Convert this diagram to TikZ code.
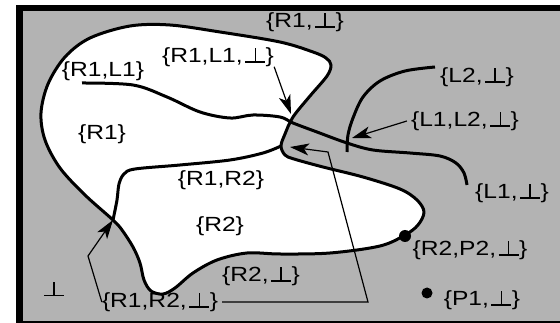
\documentclass[tikz,border=0pt]{standalone}
\usepackage{fontspec}
\setmainfont[FakeStretch=1.2]{Liberation Sans}
\usetikzlibrary{arrows.meta}

% "bottom" symbol built from two rules, so it keeps a wide foot
\newcommand\upt{\kern2.5pt\mbox{\rlap{\rule[-0.3pt]{20pt}{1.4pt}}\hspace{9.3pt}\rule[-0.3pt]{1.4pt}{14.4pt}\hspace{9.3pt}}\kern0.5pt}

\definecolor{bggray}{RGB}{179,179,179}

\begin{document}
\begin{tikzpicture}[x=1pt,y=-1pt,
  lab/.style={font=\fontsize{20.5}{24}\selectfont, inner sep=0pt},
  edge/.style={line width=3pt, line join=round},
  thinline/.style={line width=1.2pt},
  pointer/.style={-{Stealth[length=19pt,width=12pt,inset=5pt]}}]
\useasboundingbox (0,0) rectangle (560,323);

% frame and background
\fill[white] (0,0) rectangle (560,323);
\fill[black] (16,5) rectangle (560,323);
\fill[bggray] (23,11) rectangle (560,321);

% union of the regions R1 and R2
\filldraw[fill=white, edge] plot[smooth cycle, tension=0.55] coordinates {
  (113,220) (85,195) (60,168) (45,140) (41,113) (48,84) (65,57) (90,38)
  (130,26) (170,25) (220,32) (280,42) (313,52) (326,58) (331,65) (327,76)
  (310,96) (293,117) (285,134) (281,146) (285,155) (294,159)
  (323,167) (363,177) (400,189) (417,200) (424,212) (418,225) (405,235)
  (380,246) (330,253) (280,254) (247,253) (217,260) (193,273) (175,288)
  (163,294) (151,291) (144,280) (140,263) (133,247) (122,230)};

% boundary between R1 and R2
\draw[edge] plot[smooth, tension=0.55] coordinates {
  (113,220) (117,200) (119,184) (124,174) (135,169) (180,165) (230,160)
  (263,153) (281,146)};

% line L1
\draw[edge] plot[smooth, tension=0.55] coordinates {
  (82,83) (133,85) (167,97) (200,112) (230,118) (253,115) (280,117)
  (293,123) (317,132) (347,143) (373,150) (410,153) (440,156) (456,163)
  (464,173) (467,185)};

% line L2
\draw[edge] plot[smooth, tension=0.55] coordinates {
  (435,67) (405,71) (380,81) (363,97) (353,118) (348,135) (347,152)};

% points P1 and P2
\fill (427,293) circle (5.5);
\fill (405,236) circle (6);

% labels
\node[lab] (lR1b)    at (305,22)  {\{R1,\upt\}};
\node[lab] (lR1L1)   at (103,71)  {\{R1,L1\}};
\node[lab] (lR1L1b)  at (218,57)  {\{R1,L1,\upt\}};
\node[lab] (lR1)     at (102,134) {\{R1\}};
\node[lab] (lL2b)    at (477,77)  {\{L2,\upt\}};
\node[lab] (lL1L2b)  at (465,121) {\{L1,L2,\upt\}};
\node[lab] (lR1R2)   at (221,180) {\{R1,R2\}};
\node[lab] (lR2)     at (220,226) {\{R2\}};
\node[lab] (lL1b)    at (512,193) {\{L1,\upt\}};
\node[lab] (lR2P2b)  at (470,250) {\{R2,P2,\upt\}};
\node[lab] (lR2b)    at (261,276) {\{R2,\upt\}};
\node[lab] (lP1b)    at (482,300) {\{P1,\upt\}};
\node[lab] (lR1R2b)  at (160,302) {\{R1,R2,\upt\}};
\node[lab] (lbot)    at (53,289)  {\upt};

% points the arrows refer to
\coordinate (pA) at (113,220);
\coordinate (pB) at (290,147);
\coordinate (pC) at (291,114);
\coordinate (pD) at (352,138);
\coordinate (k1) at (88,256);
\coordinate (k2) at (368,303);
\coordinate (k3) at (328,152);

% arrows
\draw[thinline, pointer] (lR1L1b.south east) -- (pC);
\draw[thinline, pointer] ([xshift=-4pt]lL1L2b.west) -- (pD);
\draw[thinline, pointer] (lR1R2b.west) -- (k1) -- (pA);
\draw[thinline, pointer] ([xshift=4pt]lR1R2b.east) -- (lR1R2b.east -| k2) -- (k3) -- (pB);
\end{tikzpicture}
\end{document}
